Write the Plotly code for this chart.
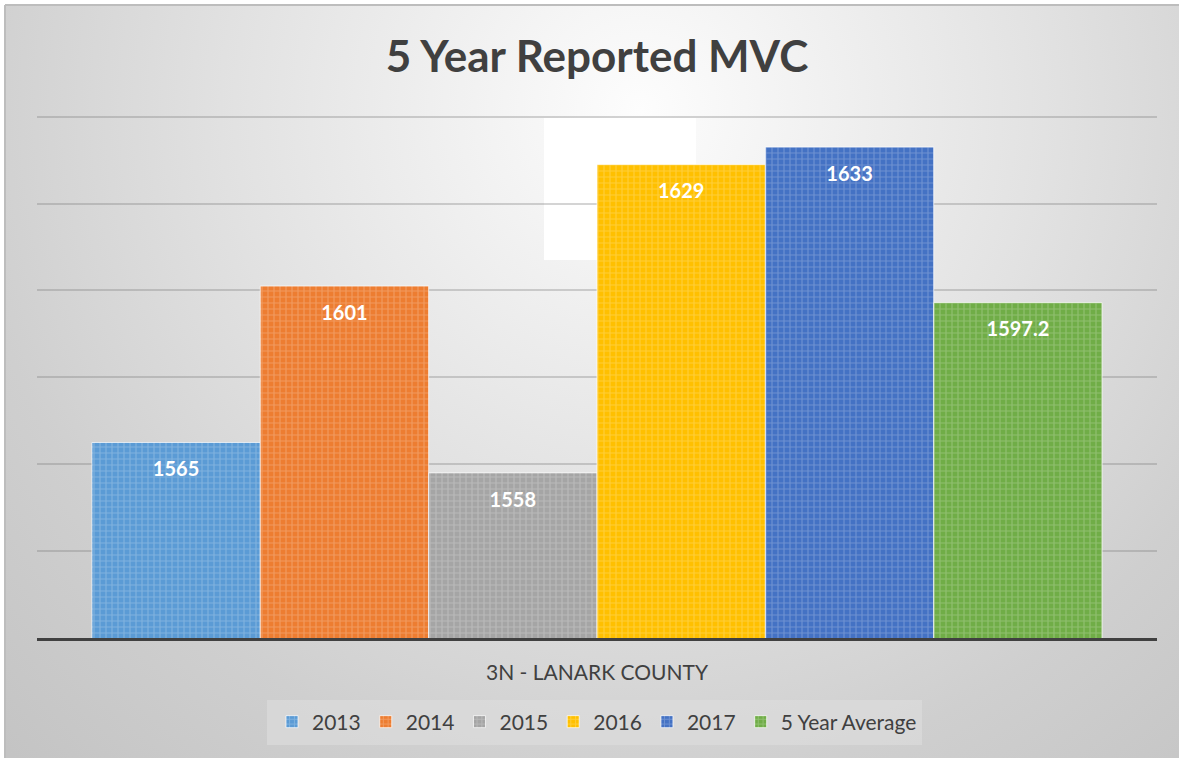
import base64
import plotly.graph_objects as go

category = ["3N - LANARK COUNTY"]
series_names = ["2013", "2014", "2015", "2016", "2017", "5 Year Average"]
series_values = [1565, 1601, 1558, 1629, 1633, 1597.2]
series_labels = ["1565", "1601", "1558", "1629", "1633", "1597.2"]
series_colors = ["#5B9BD5", "#ED7D31", "#A5A5A5", "#FFC000", "#4472C4", "#70AD47"]

W, H = 1179, 758
Y_MIN, Y_MAX = 1520, 1640.6
PX_PER_UNIT = 521 / 120
L, R, B = 37, 22, 120
T = int(round(117 - (Y_MAX - 1640) * PX_PER_UNIT))
LABEL_DROP = 6.6  # label offset below bar top, in axis units (style)

svg = f"""<svg xmlns='http://www.w3.org/2000/svg' width='{W}' height='{H}' viewBox='0 0 {W} {H}' preserveAspectRatio='none'>
<defs><radialGradient id='g' gradientUnits='userSpaceOnUse' cx='640' cy='110' r='900'>
<stop offset='0' stop-color='#fdfdfd'/><stop offset='0.45' stop-color='#e2e2e2'/><stop offset='0.75' stop-color='#cfcfcf'/><stop offset='1' stop-color='#c4c4c4'/>
</radialGradient></defs>
<rect x='0' y='0' width='{W}' height='{H}' fill='#ffffff'/>
<rect x='5' y='5' width='{W-5}' height='{H-5}' fill='url(#g)'/>
<line x1='5' y1='5' x2='{W}' y2='5' stroke='#bdbdbd' stroke-width='2'/>
<line x1='5' y1='5' x2='5' y2='{H}' stroke='#bdbdbd' stroke-width='2'/>
<rect x='544' y='118' width='152' height='142' fill='#ffffff'/>
<rect x='267' y='700' width='655' height='45' fill='#dedede' fill-opacity='0.6'/>
</svg>"""
src = "data:image/svg+xml;base64," + base64.b64encode(svg.encode()).decode()

pw, ph = W - L - R, H - T - B

fig = go.Figure()
for i, (name, val, col) in enumerate(zip(series_names, series_values, series_colors)):
    fig.add_trace(go.Bar(
        x=category, y=[val], name=name, offsetgroup=str(i),
        marker=dict(color=col, line=dict(color="rgba(255,255,255,0.7)", width=1),
                    pattern=dict(shape="+", fgcolor="white", fgopacity=0.22, size=6, solidity=0.35)),
        hoverinfo="skip",
    ))
for i, (val, lab) in enumerate(zip(series_values, series_labels)):
    fig.add_trace(go.Scatter(
        x=category, y=[val - LABEL_DROP], mode="text", text=[lab], offsetgroup=str(i),
        textposition="middle center", showlegend=False, hoverinfo="skip",
        textfont=dict(family="Lato", size=20, color="white", weight="bold"),
    ))

fig.update_layout(
    width=W, height=H,
    margin=dict(l=L, r=R, t=T, b=B, autoexpand=False),
    paper_bgcolor="rgba(0,0,0,0)", plot_bgcolor="rgba(0,0,0,0)",
    barmode="group", bargap=0.098, bargroupgap=0,
    scattermode="group", scattergap=0.098,
    title=dict(text="<b>5 Year Reported MVC</b>", x=0.5, xref="paper", xanchor="center",
               y=1 - 57 / H, yanchor="middle",
               font=dict(family="Lato", size=44, color="#404040")),
    font=dict(family="Lato", color="#404040"),
    xaxis=dict(showline=True, linecolor="#404040", linewidth=3, ticks="",
               ticklabelstandoff=14,
               tickfont=dict(family="Lato", size=21, color="#404040"), showgrid=False),
    yaxis=dict(range=[Y_MIN, Y_MAX], tick0=1520, dtick=20, showticklabels=False, showgrid=True,
               gridcolor="rgba(120,120,120,0.32)", gridwidth=2, zeroline=False, fixedrange=True),
    legend=dict(orientation="h", x=0.5, xanchor="center", y=-(722 - 638) / ph, yanchor="middle",
                bgcolor="rgba(0,0,0,0)", font=dict(family="Lato", size=21, color="#404040"),
                itemwidth=30, traceorder="normal"),
    images=[dict(source=src, xref="paper", yref="paper", x=-L / pw, y=(H - B) / ph,
                 sizex=W / pw, sizey=H / ph, sizing="stretch", layer="below",
                 xanchor="left", yanchor="top")],
    showlegend=True,
)

fig.write_html("out.html", config={"displayModeBar": False},
               post_script="document.body.style.margin='0';document.body.style.overflow='hidden';")
